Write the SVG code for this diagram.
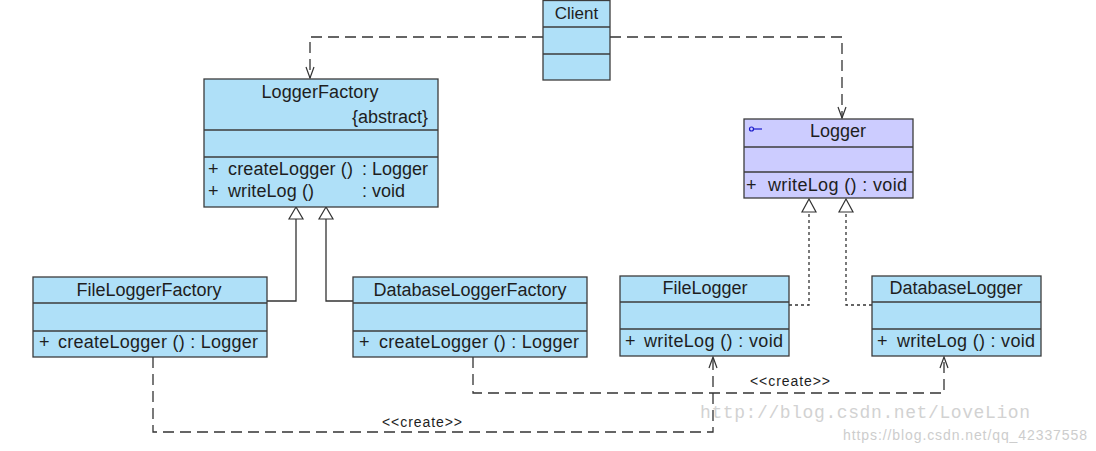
<svg xmlns="http://www.w3.org/2000/svg" width="1096" height="451" viewBox="0 0 1096 451">
<style>
.box{fill:#afe0f8;stroke:#3c3c3c;stroke-width:1.3}
.ibox{fill:#ccccff;stroke:#3c3c3c;stroke-width:1.3}
.div{stroke:#3c3c3c;stroke-width:1.3}
text{font-family:"Liberation Sans",Arial,sans-serif;fill:#1e1e1e}
.t{font-size:18px;text-anchor:middle}
.m{font-size:18px}
.lbl{font-size:14px}
.dash{fill:none;stroke:#333;stroke-width:1.3;stroke-dasharray:11 6}
.dot{fill:none;stroke:#333;stroke-width:1.3;stroke-dasharray:3 3}
.solid{fill:none;stroke:#333;stroke-width:1.3}
.tri{fill:#fff;stroke:#333;stroke-width:1.2}
.open{fill:none;stroke:#333;stroke-width:1.2}
</style>
<rect width="1096" height="451" fill="#fff"/>

<g id="connectors">
  <!-- Client -> LoggerFactory -->
  <polyline class="dash" points="543,37 310,37 310,78"/>
  <polyline class="open" points="306,67 310,78 314,67"/>
  <!-- Client -> Logger -->
  <polyline class="dash" points="610,37 842,37 842,118"/>
  <polyline class="open" points="838,107 842,118 846,107"/>
  <!-- generalization to LoggerFactory -->
  <polyline class="solid" points="267,301 296,301 296,219"/>
  <polyline class="solid" points="353,301 326,301 326,219"/>
  <polygon class="tri" points="296,207 289,219 303,219"/>
  <polygon class="tri" points="326,207 319,219 333,219"/>
  <!-- realization to Logger -->
  <polyline class="dot" points="789,305 809,305 809,212"/>
  <polyline class="dot" points="872,305 846,305 846,212"/>
  <polygon class="tri" points="809,199 802,212 816,212"/>
  <polygon class="tri" points="846,199 839,212 853,212"/>
  <!-- create: FileLoggerFactory -> FileLogger -->
  <polyline class="dash" points="153,357 153,432 713,432 713,357"/>
  <polyline class="open" points="709,368 713,357 717,368"/>
  <text class="lbl" x="382" y="427" textLength="80">&lt;&lt;create&gt;&gt;</text>
  <!-- create: DatabaseLoggerFactory -> DatabaseLogger -->
  <polyline class="dash" points="473,357 473,393 944,393 944,357"/>
  <polyline class="open" points="940,368 944,357 948,368"/>
  <text class="lbl" x="750" y="386" textLength="80">&lt;&lt;create&gt;&gt;</text>
</g>

<g id="Client">
  <rect class="box" x="543" y="0.5" width="67" height="79.5"/>
  <line class="div" x1="543" y1="27" x2="610" y2="27"/>
  <line class="div" x1="543" y1="54" x2="610" y2="54"/>
  <text class="t" x="576.5" y="19" style="font-size:17px">Client</text>
</g>

<g id="LoggerFactory">
  <rect class="box" x="204" y="79" width="234" height="128"/>
  <line class="div" x1="204" y1="130" x2="438" y2="130"/>
  <line class="div" x1="204" y1="157" x2="438" y2="157"/>
  <text class="t" x="320" y="98" textLength="117">LoggerFactory</text>
  <text class="m" x="428" y="123" text-anchor="end">{abstract}</text>
  <text class="m" y="175"><tspan x="208">+</tspan><tspan x="228" textLength="125">createLogger ()</tspan><tspan x="362" textLength="66">: Logger</tspan></text>
  <text class="m" y="197"><tspan x="208">+</tspan><tspan x="228" textLength="86">writeLog ()</tspan><tspan x="362" textLength="43">: void</tspan></text>
</g>

<g id="Logger">
  <rect class="ibox" x="744" y="119" width="169" height="79"/>
  <line class="div" x1="744" y1="147" x2="913" y2="147"/>
  <line class="div" x1="744" y1="172" x2="913" y2="172"/>
  <circle cx="751.5" cy="129" r="2" fill="none" stroke="#1a1acc" stroke-width="1.2"/>
  <line x1="753.5" y1="129" x2="762" y2="129" stroke="#1a1acc" stroke-width="1.2"/>
  <text class="t" x="838" y="137">Logger</text>
  <text class="m" y="191"><tspan x="746">+</tspan><tspan x="768" textLength="139">writeLog () : void</tspan></text>
</g>

<g id="FileLoggerFactory">
  <rect class="box" x="33" y="277" width="234" height="80"/>
  <line class="div" x1="33" y1="303" x2="267" y2="303"/>
  <line class="div" x1="33" y1="331" x2="267" y2="331"/>
  <text class="t" x="149" y="296">FileLoggerFactory</text>
  <text class="m" y="348"><tspan x="39">+</tspan><tspan x="58" textLength="200">createLogger () : Logger</tspan></text>
</g>

<g id="DatabaseLoggerFactory">
  <rect class="box" x="353" y="277" width="234" height="80"/>
  <line class="div" x1="353" y1="303" x2="587" y2="303"/>
  <line class="div" x1="353" y1="331" x2="587" y2="331"/>
  <text class="t" x="470" y="296">DatabaseLoggerFactory</text>
  <text class="m" y="348"><tspan x="359">+</tspan><tspan x="379" textLength="200">createLogger () : Logger</tspan></text>
</g>

<g id="FileLogger">
  <rect class="box" x="620" y="276" width="169" height="80"/>
  <line class="div" x1="620" y1="302" x2="789" y2="302"/>
  <line class="div" x1="620" y1="329" x2="789" y2="329"/>
  <text class="t" x="705" y="294">FileLogger</text>
  <text class="m" y="347"><tspan x="625">+</tspan><tspan x="644" textLength="139">writeLog () : void</tspan></text>
</g>

<g id="DatabaseLogger">
  <rect class="box" x="872" y="276" width="169" height="80"/>
  <line class="div" x1="872" y1="302" x2="1041" y2="302"/>
  <line class="div" x1="872" y1="329" x2="1041" y2="329"/>
  <text class="t" x="956" y="294">DatabaseLogger</text>
  <text class="m" y="347"><tspan x="877">+</tspan><tspan x="897" textLength="138">writeLog () : void</tspan></text>
</g>

<g id="watermark">
  <text x="700" y="418" style="font-family:'Liberation Mono','DejaVu Sans Mono',monospace;font-size:18px;fill:#d2d2d2" textLength="330">http://blog.csdn.net/LoveLion</text>
  <text x="843" y="440" style="font-size:14px;fill:#cdcdcd" textLength="244">https://blog.csdn.net/qq_42337558</text>
</g>
</svg>
